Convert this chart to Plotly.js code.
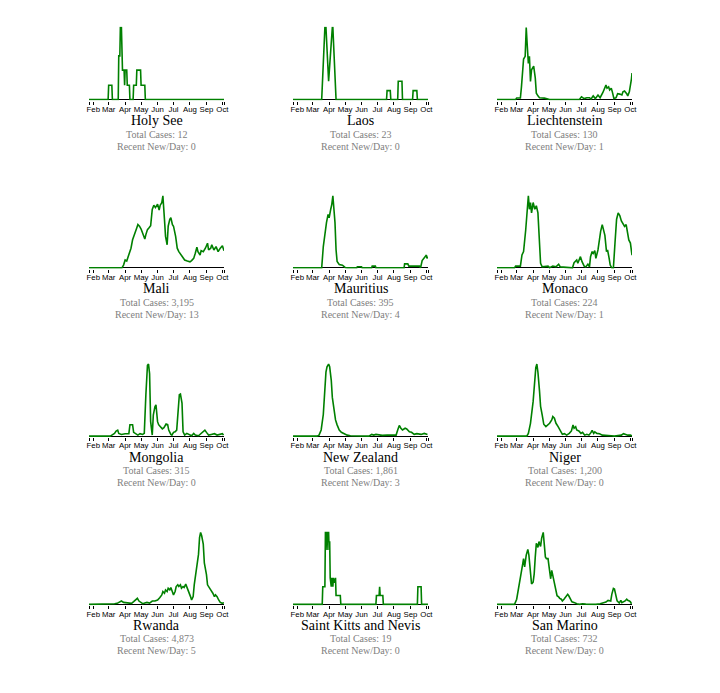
<!DOCTYPE html>
<html><head><meta charset="utf-8">
<script src="https://cdn.plot.ly/plotly-3.0.1.min.js"></script>
<style>html,body{margin:0;padding:0;background:#fff}#chart{width:720px;height:693px}</style>
</head><body><div id="chart"></div>
<script>
// ---- data (7-day average new cases per day) ----
const countries = ['Holy See','Laos','Liechtenstein','Mali','Mauritius','Monaco','Mongolia','New Zealand','Niger','Rwanda','Saint Kitts and Nevis','San Marino'];
const totalCases = [12, 23, 130, 3195, 395, 224, 315, 1861, 1200, 4873, 19, 732];
const recentNewPerDay = [0, 0, 1, 13, 4, 1, 0, 3, 0, 5, 0, 0];
const monthTicks = ['2020-01-24','2020-02-01','2020-03-01','2020-04-01','2020-05-01','2020-06-01','2020-07-01','2020-08-01','2020-09-01','2020-10-01','2020-10-04'];
const monthLabels = ['','Feb','Mar','Apr','May','Jun','Jul','Aug','Sep','Oct',''];
const xStart = '2020-01-24', xEnd = '2020-10-04';

const holySeeDates = ['01-22','02-29','03-01','03-07','03-08','03-19','03-20','03-22','03-23','03-25','03-27','03-30','03-31','04-01','04-04','04-05','04-09','04-10','04-16','04-17','04-22','04-23','04-30','05-01','05-08','05-09','10-04'];
const holySeeCases = [0,0,0.14,0.14,0,0,0.43,0.43,0.71,0.71,0.29,0.29,0.14,0.29,0.29,0.14,0.14,0,0,0.14,0.14,0.29,0.29,0.14,0.14,0,0];

const laosDates = ['01-22','03-18','03-24','03-26','03-31','04-04','04-07','04-08','04-11','04-14','07-18','07-19','07-25','07-26','08-08','08-09','08-16','08-17','09-05','09-06','09-13','09-14','10-04'];
const laosCases = [0,0,1.14,1.14,0.29,0.86,1.14,1.14,0.43,0,0,0.14,0.14,0,0,0.29,0.29,0,0,0.14,0.14,0,0];

const liechtensteinDates = ['01-22','02-28','03-01','03-08','03-10','03-14','03-17','03-19','03-21','03-23','03-25','03-27','03-29','04-02','04-05','04-07','04-10','04-13','04-22','04-29','05-02','06-27','07-01','07-06','07-11','07-16','07-19','07-23','07-27','08-01','08-05','08-10','08-13','08-16','08-18','08-21','08-23','08-26','08-28','08-31','09-04','09-07','09-11','09-15','09-17','09-20','09-24','09-26','09-29','10-01','10-03','10-04'];
const liechtensteinCases = [0,0,0.16,0.16,1.4,4.5,4.8,8,5.9,4.0,4.8,2.0,3.3,3.7,2.4,0.7,0.4,0.2,0.15,0.1,0,0,0.3,0.1,0.2,0.2,0.05,0.4,0.1,0.5,0.2,0.75,1.25,1.6,1.25,1.4,1.05,1.25,0.85,0.1,0.2,0.65,0.6,0.5,0.85,0.95,0.65,0.4,0.85,1.4,2.3,2.95];

const maliDates = ['01-22','03-26','03-29','04-01','04-04','04-08','04-12','04-15','04-19','04-23','04-25','04-28','05-01','05-04','05-08','05-10','05-13','05-16','05-19','05-22','05-25','05-28','06-01','06-04','06-06','06-09','06-11','06-14','06-16','06-19','06-21','06-24','06-26','06-29','07-01','07-05','07-08','07-11','07-15','07-18','07-22','07-27','08-01','08-04','08-08','08-11','08-14','08-16','08-20','08-22','08-26','08-30','09-03','09-05','09-09','09-11','09-15','09-19','09-23','09-27','10-01','10-04'];
const maliCases = [0,0,1.35,3.9,3.4,6.4,9.8,14,16.6,20,21.6,20.8,19.4,17.4,14.4,16.6,19.1,20,21.1,29.2,31.3,30.1,31.8,28.9,31.3,32.6,36,24.2,15.7,11.5,20.8,24.2,25,21.6,20.8,15.7,9.8,8.1,6.4,5.6,3.9,3.4,3.0,3.6,4.7,7.3,10.3,8.1,6.4,8.6,8.1,9.8,12.3,8.9,9.8,11.5,8.9,10.6,8.1,9.8,11.0,8.5];

const mauritiusDates = ['01-22','03-18','03-21','03-25','03-27','03-30','04-01','04-04','04-06','04-08','04-10','04-12','04-14','04-16','04-20','04-26','05-01','05-05','05-23','05-24','06-01','06-02','06-20','06-21','06-27','06-28','08-20','08-21','08-27','08-29','09-18','09-20','09-23','09-26','10-01','10-02','10-04'];
const mauritiusCases = [0,0,6.5,12.2,13.8,16.3,15.3,17.9,19.4,22,17.9,13.8,5.5,1.9,1.0,0.8,0.1,0,0,0.3,0.3,0,0,0.5,0.5,0,0,1.2,1.2,0.5,0.5,0,2.2,2.9,3.9,2.9,3.4];

const monacoDates = ['01-22','02-26','02-28','03-08','03-11','03-14','03-18','03-20','03-23','03-25','03-27','03-29','04-01','04-04','04-07','04-10','04-13','04-15','04-18','04-29','05-02','05-08','05-14','05-19','05-22','05-30','06-14','06-17','06-22','06-24','06-27','06-29','07-02','07-06','07-09','07-13','07-16','07-18','07-21','07-23','07-26','07-28','08-01','08-03','08-06','08-09','08-11','08-14','08-17','08-19','08-22','08-24','08-27','08-30','09-02','09-05','09-08','09-11','09-14','09-17','09-20','09-23','09-26','09-28','10-01','10-03','10-04'];
const monacoCases = [0,0,0.19,0.19,1.43,1.8,4.2,5.7,8,6.5,7.25,6.1,7.25,6.5,6.9,6.1,3.1,0.5,0.1,0.19,0,0.19,0.1,0.4,0.1,0.04,0,0.56,0.86,0.5,1.05,1.24,0.68,0.19,0.1,0.41,0.1,1.24,1.8,1.6,1.9,1.05,1.99,2.9,4.05,4.8,4.2,3.6,1.8,2.0,1.05,0.3,0,0,2.75,5.4,6.1,5.8,5.2,4.8,4.6,4.8,3.9,3.1,2.75,2.0,1.4];

const mongoliaDates = ['01-22','03-04','03-07','03-12','03-15','03-18','03-20','03-25','04-01','04-08','04-10','04-15','04-17','04-21','04-25','04-29','05-04','05-07','05-09','05-10','05-13','05-15','05-17','05-19','05-22','05-24','05-27','05-29','06-01','06-03','06-06','06-10','06-13','06-17','06-20','06-22','06-26','06-28','07-01','07-04','07-07','07-09','07-12','07-14','07-17','07-19','07-22','07-26','07-31','08-04','08-08','08-11','08-17','08-20','08-25','08-29','09-01','09-05','09-10','09-16','09-21','09-26','10-01','10-03'];
const mongoliaCases = [0,0,0.17,0.45,0.84,1.0,0.45,0.28,0.4,0.4,1.9,1.9,0.62,0.4,0.17,0.4,0.28,0.45,3.5,6.9,11.8,12,10.4,2.4,0.17,3.5,4.9,5.2,2.4,1.9,1.6,1.2,1.4,2.0,1.9,1.0,0.28,0.17,0.62,0.73,1.0,3.8,6.9,7.0,5.5,0.73,0.17,0.45,0.28,0.06,0.45,0.17,0.06,0.28,0.73,1.0,0.62,0.17,0.28,0.4,0.17,0.28,0.4,0.17];

const newZealandDates = ['01-22','03-09','03-13','03-17','03-21','03-23','03-26','03-28','03-31','04-02','04-05','04-07','04-10','04-13','04-16','04-20','04-24','04-29','05-05','05-11','05-30','06-15','06-20','06-24','06-28','07-04','07-10','07-19','08-01','08-05','08-08','08-11','08-14','08-17','08-22','08-25','08-30','09-03','09-08','09-13','09-21','09-27','10-03'];
const newZealandCases = [0,0,1.1,6.8,24,50,71,77,80,77,62,43,28,18,12.5,6.8,4.2,2.7,1.1,0.4,0,0,1.9,1.1,1.9,1.1,0.8,1.1,0.8,1.1,6.8,11.8,8.7,6.8,8.7,8.0,4.9,4.2,1.9,2.7,1.9,3.0,1.9];

const nigerDates = ['01-22','03-20','03-23','03-27','04-01','04-03','04-06','04-08','04-10','04-13','04-15','04-18','04-21','04-25','04-29','05-02','05-06','05-08','05-11','05-14','05-18','05-22','05-26','05-30','06-03','06-08','06-12','06-15','06-17','06-20','06-22','06-26','06-30','07-03','07-07','07-11','07-15','07-19','07-21','07-24','07-26','07-30','08-04','08-09','08-14','08-20','08-26','09-01','09-07','09-14','09-18','09-22','09-26','10-01','10-04'];
const nigerCases = [0,0,1.7,8.0,21.7,32.3,42.8,45,39.9,28.1,18.6,13.3,7.4,5.9,7.0,8.0,10.1,12.2,11.2,8.0,5.9,3.8,1.1,1.5,0.6,1.7,3.2,7.0,4.9,5.9,3.8,3.2,1.7,2.3,0.6,1.1,0.6,2.3,3.6,1.7,2.7,1.7,1.5,0.6,0.6,0.2,0.2,0,0.4,0.6,1.5,1.1,0.6,0.6,0.2];

const rwandaDates = ['01-22','03-04','03-12','03-17','03-21','03-25','03-29','04-02','04-07','04-13','04-17','04-20','04-24','04-27','04-30','05-04','05-08','05-12','05-17','05-22','05-27','06-01','06-05','06-09','06-11','06-14','06-16','06-19','06-21','06-24','06-26','06-29','07-01','07-04','07-06','07-09','07-11','07-14','07-16','07-19','07-21','07-24','07-26','07-29','08-02','08-04','08-07','08-09','08-12','08-14','08-17','08-19','08-21','08-23','08-26','08-28','09-01','09-03','09-06','09-09','09-13','09-16','09-18','09-21','09-24','09-27','10-01','10-04'];
const rwandaCases = [0,0,0.7,1.1,2.1,3.5,2.1,1.8,1.8,1.1,2.8,4.6,6.3,3.5,2.1,0.7,1.4,2.1,1.4,3.5,3.5,4.6,7.0,9.9,13.4,11.6,15.1,13.4,16.9,15.1,17.6,11.6,9.9,13.4,18.6,20.4,18.6,20.4,16.9,18.6,17.6,21.1,18.6,13.4,8.1,4.6,8.1,20.4,34.5,43.3,52.1,69.7,75,71.5,62.7,43.3,31.0,20.4,16.9,15.1,11.6,8.1,9.9,8.1,4.6,2.1,1.1,1.8];

const saintKittsDates = ['01-22','03-19','03-20','03-24','03-25','03-27','03-28','03-29','03-31','04-01','04-02','04-03','04-05','04-06','04-08','04-09','04-11','04-13','04-14','04-22','04-23','06-28','06-29','07-04','07-05','07-06','07-11','07-12','09-14','09-15','09-21','09-22','10-04'];
const saintKittsCases = [0,0,0.14,0.14,0.57,0.57,0.43,0.57,0.57,0.43,0.5,0.21,0.14,0.21,0.14,0.21,0.17,0.21,0.07,0.07,0,0,0.07,0.07,0.14,0.07,0.07,0,0,0.14,0.14,0,0];

const sanMarinoDates = ['01-22','02-26','03-01','03-04','03-07','03-10','03-12','03-14','03-16','03-19','03-22','03-24','03-26','03-29','04-01','04-03','04-05','04-07','04-10','04-12','04-15','04-17','04-20','04-22','04-24','04-26','04-29','05-01','05-04','05-06','05-09','05-11','05-14','05-16','05-19','05-21','05-24','05-26','05-29','06-01','06-05','06-07','06-10','06-13','06-18','06-22','06-27','07-03','07-09','07-15','07-28','08-05','08-11','08-16','08-20','08-25','08-27','08-30','09-01','09-04','09-06','09-10','09-13','09-15','09-19','09-21','09-24','09-26','09-29','10-01','10-03'];
const sanMarinoCases = [0,0,1.8,4.7,7.7,10.6,13.6,15.9,13.0,17.1,19.1,17.1,11.8,7.1,7.7,10.6,16.5,21.2,19.8,21.8,20.1,23.0,25,19.5,16.5,15.9,15.9,13.0,8.9,11.8,9.4,7.7,5.3,3.0,2.6,2.1,1.8,1.2,1.8,2.6,3.5,3.0,1.8,0.9,0.6,0.2,0,0.2,0.1,0,0,0.2,0.6,0.8,1.4,1.2,3.5,5.5,5.3,3.0,1.2,0.5,1.4,0.6,0.9,1.2,1.8,1.4,1.2,0.9,0.2];

const seriesDates = [holySeeDates, laosDates, liechtensteinDates, maliDates, mauritiusDates, monacoDates, mongoliaDates, newZealandDates, nigerDates, rwandaDates, saintKittsDates, sanMarinoDates];
const seriesCases = [holySeeCases, laosCases, liechtensteinCases, maliCases, mauritiusCases, monacoCases, mongoliaCases, newZealandCases, nigerCases, rwandaCases, saintKittsCases, sanMarinoCases];

// ---- layout (pixels) ----
const W = 720, H = 693;
const colLeft = [89, 293, 497], plotW = 135, plotH = 72;
const rowBase = [99.5, 267.8, 436.1, 604.4];
const serif = 'Liberation Serif, Times New Roman, serif';
const sans = 'Liberation Sans, Arial, sans-serif';

const traces = [], annotations = [];
const layout = {
  width: W, height: H, margin: {l: 0, r: 0, t: 0, b: 0},
  paper_bgcolor: '#fff', plot_bgcolor: '#fff', showlegend: false,
  font: {family: sans, color: '#000'}
};
const py = px => 1 - px / H;

countries.forEach((name, i) => {
  const r = Math.floor(i / 3), c = i % 3;
  const n = i + 1;
  const sfx = n === 1 ? '' : String(n);
  const base = rowBase[r], left = colLeft[c];
  const maxV = Math.max(...seriesCases[i]);
  const padV = maxV / plotH;
  traces.push({
    type: 'scatter', mode: 'lines',
    x: seriesDates[i].map(d => '2020-' + d), y: seriesCases[i],
    xaxis: 'x' + sfx, yaxis: 'y' + sfx,
    line: {color: '#008000', width: 1.6}, hoverinfo: 'skip'
  });
  layout['xaxis' + sfx] = {
    domain: [left / W, (left + plotW) / W], anchor: 'y' + sfx,
    type: 'date', range: [xStart, xEnd], tickmode: 'array',
    tickvals: monthTicks, ticktext: monthLabels, tickangle: 0,
    ticks: 'outside', ticklen: 3, tickwidth: 1, tickcolor: '#000',
    ticklabelstandoff: -2,
    showline: false, showgrid: false, zeroline: false,
    tickfont: {family: sans, size: 7.8, color: '#000'}, fixedrange: true
  };
  layout['yaxis' + sfx] = {
    domain: [py(base + 1), py(base - plotH - 1)], anchor: 'x' + sfx,
    range: [-padV, maxV + padV], showticklabels: false, ticks: '', showgrid: false,
    showline: false, zeroline: true, zerolinecolor: '#000', zerolinewidth: 1,
    layer: 'below traces', fixedrange: true
  };
  const cx = (left + plotW / 2) / W;
  annotations.push({xref: 'paper', yref: 'paper', x: cx, y: py(base + 21), xanchor: 'center', yanchor: 'middle',
    text: name, showarrow: false, font: {family: serif, size: 14, color: '#000'}});
  annotations.push({xref: 'paper', yref: 'paper', x: cx, y: py(base + 34.5), xanchor: 'center', yanchor: 'middle',
    text: 'Total Cases: ' + totalCases[i].toLocaleString('en-US'), showarrow: false, font: {family: serif, size: 10, color: '#808080'}});
  annotations.push({xref: 'paper', yref: 'paper', x: cx, y: py(base + 46.5), xanchor: 'center', yanchor: 'middle',
    text: 'Recent New/Day: ' + recentNewPerDay[i], showarrow: false, font: {family: serif, size: 10, color: '#808080'}});
});
layout.annotations = annotations;

Plotly.newPlot('chart', traces, layout, {staticPlot: true, displayModeBar: false});
</script>
</body></html>
